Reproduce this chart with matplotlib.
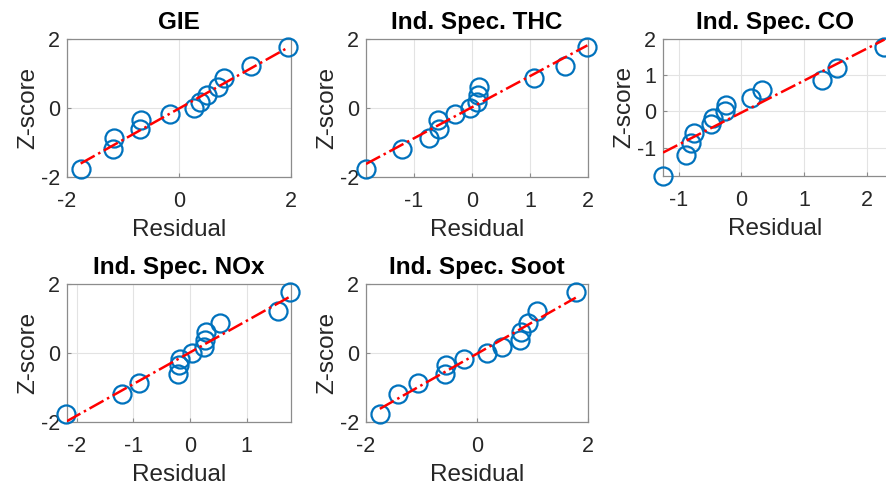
import numpy as np
import matplotlib
matplotlib.use("Agg")
import matplotlib.pyplot as plt

plt.rcParams['font.family'] = ['Liberation Sans', 'DejaVu Sans']
plt.rcParams['axes.unicode_minus'] = False

# normal scores (same for every panel, 13 runs)
zscore = [-1.77, -1.2, -0.86, -0.6, -0.36, -0.18, 0.0, 0.18, 0.36, 0.6, 0.86, 1.2, 1.77]

# sorted residuals
res_gie = [-1.755, -1.18, -1.16, -0.70, -0.67, -0.16, 0.27, 0.38, 0.50, 0.70, 0.81, 1.29, 1.95]
res_thc = [-1.82, -1.20, -0.73, -0.57, -0.58, -0.28, -0.03, 0.085, 0.10, 0.13, 1.07, 1.60, 1.99]
res_co = [-1.25, -0.88, -0.80, -0.76, -0.48, -0.45, -0.26, -0.24, 0.16, 0.33, 1.29, 1.53, 2.28]
res_nox = [-2.18, -1.20, -0.90, -0.21, -0.19, -0.18, 0.04, 0.25, 0.27, 0.28, 0.53, 1.55, 1.77]
res_soot = [-1.75, -1.43, -1.07, -0.58, -0.55, -0.24, 0.18, 0.45, 0.77, 0.79, 0.92, 1.09, 1.78]

titles = ['GIE', 'Ind. Spec. THC', 'Ind. Spec. CO', 'Ind. Spec. NOx', 'Ind. Spec. Soot']
residuals = [res_gie, res_thc, res_co, res_nox, res_soot]

xlims = [(-2, 2), (-1.82, 2.0), (-1.25, 2.32), (-2.17, 1.78), (-2, 2)]
ylims = [(-2, 2), (-2, 2), (-1.78, 2.0), (-2, 2), (-2, 2)]
xticks = [[-2, 0, 2], [-1, 0, 1, 2], [-1, 0, 1, 2], [-2, -1, 0, 1], [-2, 0, 2]]
yticks = [[-2, 0, 2], [-2, 0, 2], [-1, 0, 1, 2], [-2, 0, 2], [-2, 0, 2]]

# axes boxes in figure fraction [left, bottom, width, height]
boxes = [
    [0.0755, 0.636, 0.2525, 0.284],
    [0.4126, 0.636, 0.2503, 0.284],
    [0.7475, 0.638, 0.2525, 0.282],
    [0.0755, 0.132, 0.2525, 0.284],
    [0.4126, 0.132, 0.2503, 0.284],
]

fig = plt.figure(figsize=(8.87, 4.86), dpi=100)

for i in range(5):
    ax = fig.add_axes(boxes[i])
    x = np.array(residuals[i])
    z = np.array(zscore)
    ax.plot(x, z, 'o', mfc='none', mec='#0072BD', ms=13, mew=1.6, clip_on=False, zorder=3)
    p = np.polyfit(x, z, 1)
    xl = np.array([x.min(), x.max()])
    ax.plot(xl, np.polyval(p, xl), '-.', color='red', lw=1.8, zorder=4)

    ax.set_xlim(xlims[i])
    ax.set_ylim(ylims[i])
    ax.set_xticks(xticks[i])
    ax.set_yticks(yticks[i])
    ax.grid(True, color='#e3e3e3', lw=0.8)
    ax.set_axisbelow(True)
    for s in ax.spines.values():
        s.set_color('#8c8c8c')
        s.set_linewidth(0.9)
    ax.tick_params(direction='in', length=3, width=0.8, color='#8c8c8c',
                   labelsize=15.5, labelcolor='#262626')
    ax.tick_params(axis='x', pad=10)
    ax.tick_params(axis='y', pad=5)
    ax.set_title(titles[i], fontsize=17.5, fontweight='bold', pad=7)
    ax.set_xlabel('Residual', fontsize=17.5, color='#262626', labelpad=5)
    ax.set_ylabel('Z-score', fontsize=17.5, color='#262626', labelpad=1)

plt.savefig('out.png', dpi=100)
